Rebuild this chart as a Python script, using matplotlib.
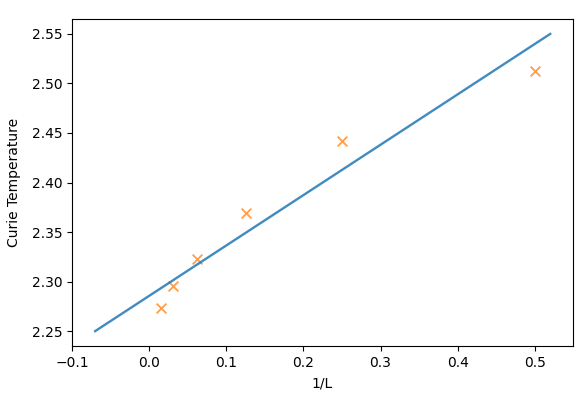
# Curie temperature vs inverse lattice size

import matplotlib
matplotlib.use("Agg")
from matplotlib import pyplot as plt

# Fitted line endpoints
fit_x = [-0.07, 0.52]
fit_y = [2.25, 2.55]

# Measured Curie temperatures for L = 64, 32, 16, 8, 4, 2
inv_L = [1 / 64, 1 / 32, 1 / 16, 1 / 8, 1 / 4, 1 / 2]
curie_T = [2.273, 2.296, 2.323, 2.369, 2.442, 2.513]

fig = plt.figure(figsize=(5.86, 4.05), dpi=100)
ax = fig.add_subplot(111)
fig.subplots_adjust(left=0.1229, right=0.9778, top=0.953, bottom=0.1457)

ax.plot(fit_x, fit_y, color="C0", alpha=0.85, linewidth=1.7)
ax.scatter(inv_L, curie_T, marker="x", color="C1", s=50, linewidths=1.3, alpha=0.75)

ax.set_xlim(-0.1, 0.5495)
ax.set_ylim(2.235, 2.565)
ax.set_xlabel("1/L", labelpad=5)
ax.set_ylabel("Curie Temperature", labelpad=8)

fig.savefig("out.png", dpi=100)
plt.close(fig)
